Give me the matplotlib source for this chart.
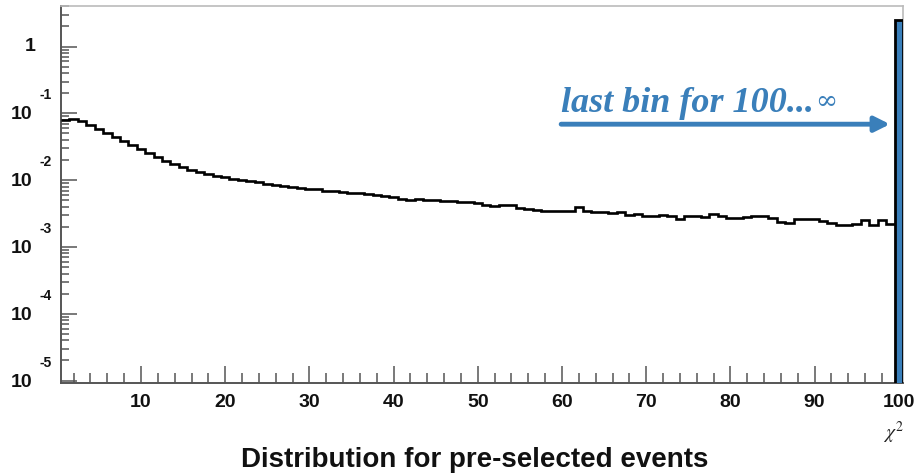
import numpy as np
import matplotlib
matplotlib.use("Agg")
import matplotlib.pyplot as plt
from matplotlib import transforms
from matplotlib.ticker import LogLocator, MultipleLocator, NullFormatter, FixedLocator

# ---------------- data ----------------
# bin centres (chi2), bin width 1; the last bin collects 100...inf
bin_centers = list(range(1, 101))
counts = [
    0.079, 0.083, 0.076, 0.0665, 0.058, 0.0505, 0.044, 0.0383, 0.0334, 0.029,
    0.0253, 0.022, 0.0192, 0.0173, 0.0156, 0.0141, 0.0131, 0.0122, 0.0114, 0.0110,
    0.0103, 0.00996, 0.00962, 0.00929, 0.00867, 0.00838, 0.00810, 0.00782, 0.00755, 0.00730,
    0.00730, 0.00681, 0.00681, 0.00658, 0.00635, 0.00635, 0.00614, 0.00593, 0.00573, 0.00553,
    0.00516, 0.00499, 0.00516, 0.00499, 0.00499, 0.00482, 0.00482, 0.00466, 0.00466, 0.00450,
    0.00420, 0.00406, 0.00420, 0.00420, 0.00379, 0.00366, 0.00353, 0.00341, 0.00341, 0.00341,
    0.00341, 0.00392, 0.00341, 0.00330, 0.00330, 0.00318, 0.00330, 0.00297, 0.00308, 0.00287,
    0.00287, 0.00297, 0.00287, 0.00259, 0.00287, 0.00287, 0.00277, 0.00308, 0.00287, 0.00268,
    0.00268, 0.00277, 0.00287, 0.00287, 0.00268, 0.00233, 0.00225, 0.00259, 0.00259, 0.00259,
    0.00242, 0.00225, 0.00210, 0.00210, 0.00218, 0.00250, 0.00210, 0.00250, 0.00218,
    2.50,
]
x_tick_values = [10, 20, 30, 40, 50, 60, 70, 80, 90, 100]
y_decades = [-5, -4, -3, -2, -1, 0]
x_range = (0.5, 100.5)
y_range = (9.2e-6, 4.05)

title_text = "Distribution for pre-selected events"
annot_text = "last bin for 100..."
annot_sym = "\u221e"

BLUE = "#3a7fba"
AXC = "#555555"
FONT = "Liberation Sans"

# ---------------- figure ----------------
W, H = 916, 474
fig = plt.figure(figsize=(W / 100, H / 100), dpi=100)
fig.patch.set_facecolor("white")
ax = fig.add_axes([61 / W, 1 - 383 / H, (903 - 61) / W, (383 - 6) / H])
ax.set_yscale("log")
ax.set_xlim(*x_range)
ax.set_ylim(*y_range)

# histogram (all but last bin) as black steps
edges = np.arange(len(counts) + 1) + 0.5
ax.stairs(counts[:-1], edges[:-1], color="black", lw=1.9, baseline=None, zorder=3)
# last (overflow) bin in blue with black outline
ax.bar(bin_centers[-1], counts[-1], width=1.0, bottom=1e-7, color=BLUE,
       edgecolor="black", lw=2.0, zorder=3)

# spines
for s in ["left", "bottom"]:
    ax.spines[s].set_color(AXC)
    ax.spines[s].set_linewidth(1.4)
for s in ["top", "right"]:
    ax.spines[s].set_color("#bbbbbb")
    ax.spines[s].set_linewidth(1.2)

# ticks
ax.xaxis.set_major_locator(FixedLocator(x_tick_values))
ax.xaxis.set_minor_locator(MultipleLocator(2))
ax.yaxis.set_major_locator(LogLocator(base=10, numticks=20))
ax.yaxis.set_minor_locator(LogLocator(base=10, subs=np.arange(2, 10), numticks=20))
ax.yaxis.set_minor_formatter(NullFormatter())
ax.yaxis.set_major_formatter(NullFormatter())
ax.tick_params(axis="both", which="both", direction="in", color=AXC, width=1.1,
               top=False, right=False)
ax.tick_params(axis="x", which="major", length=12, pad=8)
ax.tick_params(axis="x", which="minor", length=7)
ax.tick_params(axis="y", which="major", length=11.5)
ax.tick_params(axis="y", which="minor", length=6)
ax.set_xticklabels([str(v) for v in x_tick_values], fontsize=14,
                   fontweight="bold", family=FONT, color="#111111")

# y tick labels in ROOT style: "10" with detached exponent
btrans = transforms.blended_transform_factory(fig.transFigure, ax.transData)
raise_tr = btrans + transforms.ScaledTranslation(0, 18 / 100, fig.dpi_scale_trans)
for e in y_decades:
    val = 10.0 ** e
    if e == 0:
        ax.text(36 / W, val, "1", transform=btrans, ha="right", va="center",
                fontsize=14, fontweight="bold", family=FONT, color="#111111")
    else:
        ax.text(32 / W, val, "10", transform=btrans + transforms.ScaledTranslation(0, -1.5 / 100, fig.dpi_scale_trans),
                ha="right", va="center", fontsize=14, fontweight="bold",
                family=FONT, color="#111111")
        ax.text(39 / W, val, "-%d" % (-e), transform=raise_tr, ha="left",
                va="center", fontsize=10, fontweight="bold", family=FONT,
                color="#111111")

# x-axis label chi^2
plt.rcParams["mathtext.fontset"] = "stix"
fig.text(893 / W, 1 - 433 / H, r"$\chi^{2}$", ha="center", va="center",
         fontsize=14, color="#222222")

# title at bottom
fig.text(475 / W, 1 - 467 / H, title_text, ha="center", va="baseline",
         fontsize=20, fontweight="bold", family=FONT, color="#111111")

# annotation arrow and text
arrow_y = 10 ** ((46.5 - 124) / 66.7)
ax.annotate("", xy=(98.95, arrow_y), xytext=(59.9, arrow_y),
            arrowprops=dict(arrowstyle="-|>,head_length=0.9,head_width=0.45",
                            color=BLUE, lw=3.5, shrinkA=0, shrinkB=0), zorder=4)
text_y = 10 ** ((46.5 - 112) / 66.7)
t1 = ax.text(59.9, text_y, annot_text, ha="left", va="baseline", fontsize=26,
             fontstyle="italic", fontweight="bold", family="Liberation Serif",
             color=BLUE, zorder=4)
fig.canvas.draw()
bb = t1.get_window_extent()
x_end = bb.x1
ax.text(0, 0, annot_sym, ha="left", va="baseline", fontsize=19,
        family="DejaVu Serif", color=BLUE, zorder=4,
        transform=transforms.IdentityTransform() + transforms.Affine2D().translate(x_end + 1, H - 109))

fig.savefig("out.png", dpi=100)
